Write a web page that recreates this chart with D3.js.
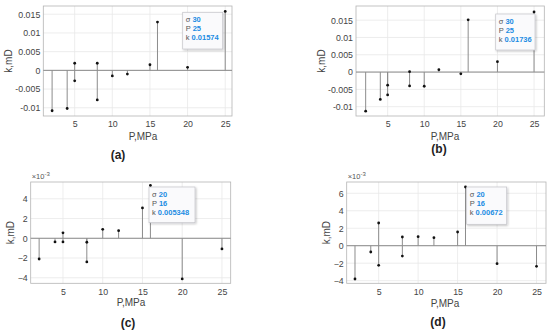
<!DOCTYPE html>
<html>
<head>
<meta charset="utf-8">
<script src="https://cdn.jsdelivr.net/npm/d3@7"></script>
<style>
  body { margin: 0; background: #fff; }
  text { font-family: "Liberation Sans", Arial, sans-serif; }
</style>
</head>
<body>
<div id="chart"></div>
<script>
// pressure points (same for all four panels)
var pressure = [2, 4, 5, 5, 8, 8, 10, 12, 15, 16, 20, 25];

// permeability change per panel, mD
var kA = [-0.0108, -0.0102, 0.0019, -0.0028, 0.0019, -0.0079, -0.0015, -0.0010, 0.0015, 0.0129, 0.0008, 0.01574];
var kB = [-0.0113, -0.0079, -0.0038, -0.0066, 0.0001, -0.0040, -0.0041, 0.0007, -0.0005, 0.0151, 0.0030, 0.01736];
var kC = [-0.00210, -0.00037, 0.00055, -0.00037, -0.00040, -0.00240, 0.00091, 0.00077, 0.00307, 0.005348, -0.00412, -0.00108];
var kD = [-0.00381, -0.00072, 0.00260, -0.00224, 0.00100, -0.00118, 0.00103, 0.00092, 0.00157, 0.00672, -0.00206, -0.00236];

var xTicks = [5, 10, 15, 20, 25];
var yTicksAB = [-0.01, -0.005, 0, 0.005, 0.01, 0.015];
var yTicksC = [-0.004, -0.002, 0, 0.002, 0.004];
var yTicksD = [-0.004, -0.002, 0, 0.002, 0.004, 0.006];

// data tips: sigma, P, k
var tipA = ["30", "25", "0.01574"];
var tipB = ["30", "25", "0.01736"];
var tipC = ["20", "16", "0.005348"];
var tipD = ["20", "16", "0.00672"];

var panelNames = ["(a)", "(b)", "(c)", "(d)"];

var svg = d3.select("#chart").append("svg")
  .attr("width", 550)
  .attr("height", 332);

var panels = [
  {k: kA, ticks: yTicksAB, tip: tipA, name: panelNames[0], exp: false,
   box: [43.3, 232, 6, 116], xd: [0.83, 25.9], yd: [-0.0122, 0.0172],
   tipBox: [182.7, 12.3, 40, 36.7], ylab: 8.5, xlabX: 143, xlabY: 140, nameX: 118, nameY: 159},
  {k: kB, ticks: yTicksAB, tip: tipB, name: panelNames[1], exp: false,
   box: [356, 544.3, 6, 116], xd: [0.68, 26.4], yd: [-0.0127, 0.0191],
   tipBox: [495.7, 14, 39.3, 36], ylab: 321.7, xlabX: 445, xlabY: 139.5, nameX: 439, nameY: 153},
  {k: kC, ticks: yTicksC, tip: tipC, name: panelNames[2], exp: true,
   box: [30.7, 230.7, 182, 283.3], xd: [0.94, 26.1], yd: [-0.00456, 0.0057],
   tipBox: [149, 187, 46, 35.7], ylab: 10, xlabX: 131, xlabY: 306, nameX: 128, nameY: 327},
  {k: kD, ticks: yTicksD, tip: tipD, name: panelNames[3], exp: true,
   box: [346.7, 546, 182, 283.3], xd: [0.95, 26.2], yd: [-0.0043, 0.00729],
   tipBox: [466.7, 187, 40, 37.3], ylab: 326.7, xlabX: 445, xlabY: 307, nameX: 438, nameY: 326}
];

var defs = svg.append("defs");
var f = defs.append("filter").attr("id", "shadow")
  .attr("x", "-20%").attr("y", "-20%").attr("width", "150%").attr("height", "150%");
f.append("feDropShadow").attr("dx", 1).attr("dy", 1).attr("stdDeviation", 0.8)
  .attr("flood-color", "#000").attr("flood-opacity", 0.25);

panels.forEach(function(p) {
  var x = d3.scaleLinear().domain(p.xd).range([p.box[0], p.box[1]]);
  var y = d3.scaleLinear().domain(p.yd).range([p.box[3], p.box[2]]);
  var g = svg.append("g");

  // grid
  g.selectAll(".gx").data(xTicks).enter().append("line")
    .attr("x1", d => x(d)).attr("x2", d => x(d))
    .attr("y1", p.box[2]).attr("y2", p.box[3])
    .attr("stroke", "#e8e8e8").attr("stroke-width", 0.8);
  g.selectAll(".gy").data(p.ticks).enter().append("line")
    .attr("x1", p.box[0]).attr("x2", p.box[1])
    .attr("y1", d => y(d)).attr("y2", d => y(d))
    .attr("stroke", "#e8e8e8").attr("stroke-width", 0.8);

  // axes box
  g.append("rect")
    .attr("x", p.box[0]).attr("y", p.box[2])
    .attr("width", p.box[1] - p.box[0]).attr("height", p.box[3] - p.box[2])
    .attr("fill", "none").attr("stroke", "#b4b4b4").attr("stroke-width", 0.8);

  // axes with ticks
  var fmt = p.exp ? (d => d3.format("")(Math.round(d * 1000))) : (d => d === 0 ? "0" : String(+d.toFixed(3)));
  var yAxis = d3.axisLeft(y).tickValues(p.ticks).tickSize(0).tickPadding(3).tickFormat(fmt);
  var xAxis = d3.axisBottom(x).tickValues(xTicks).tickSize(0).tickPadding(5);

  var ya = g.append("g").attr("transform", `translate(${p.box[0]},0)`).call(yAxis);
  var xa = g.append("g").attr("transform", `translate(0,${p.box[3]})`).call(xAxis);
  [ya, xa].forEach(function(a) {
    a.select(".domain").remove();
    a.selectAll("text").attr("font-size", "8.8px").attr("fill", "#444")
      .attr("font-family", "Liberation Sans, Arial, sans-serif");
  });

  if (p.exp) {
    var t = g.append("text").attr("x", p.box[0] + 1).attr("y", p.box[2] - 3)
      .attr("font-size", "7.5px").attr("fill", "#555");
    t.append("tspan").text("\u00d710");
    t.append("tspan").attr("dy", -3).attr("font-size", "6px").text("-3");
  }

  // baseline at zero
  g.append("line")
    .attr("x1", p.box[0]).attr("x2", p.box[1])
    .attr("y1", y(0)).attr("y2", y(0))
    .attr("stroke", "#8a8a8a").attr("stroke-width", 1);

  // stems
  g.selectAll(".stem").data(p.k).enter().append("line")
    .attr("x1", (d, i) => x(pressure[i])).attr("x2", (d, i) => x(pressure[i]))
    .attr("y1", y(0)).attr("y2", d => y(d))
    .attr("stroke", "#8c8c8c").attr("stroke-width", 1);

  g.selectAll(".dot").data(p.k).enter().append("circle")
    .attr("cx", (d, i) => x(pressure[i])).attr("cy", d => y(d))
    .attr("r", 1.4).attr("fill", "#111");

  // labels
  g.append("text").attr("x", p.xlabX).attr("y", p.xlabY)
    .attr("text-anchor", "middle").attr("font-size", "10px").attr("fill", "#444")
    .text("P,MPa");
  g.append("text")
    .attr("transform", `translate(${p.ylab + 3.5},${(p.box[2] + p.box[3]) / 2}) rotate(-90)`)
    .attr("text-anchor", "middle").attr("font-size", "10px").attr("fill", "#444")
    .text("k,mD");

  g.append("text").attr("x", p.nameX).attr("y", p.nameY)
    .attr("text-anchor", "middle").attr("font-size", "12px").attr("font-weight", "bold")
    .attr("font-family", "Liberation Serif, serif").attr("fill", "#222")
    .text(p.name);

  // data tip
  var tb = p.tipBox;
  var tg = g.append("g");
  tg.append("rect").attr("x", tb[0]).attr("y", tb[1]).attr("width", tb[2]).attr("height", tb[3])
    .attr("fill", "#fafafc").attr("stroke", "#c4c4c8").attr("stroke-width", 0.7)
    .attr("filter", "url(#shadow)");
  var tipLabels = ["\u03c3", "P", "k"];
  tipLabels.forEach(function(lab, i) {
    var tt = tg.append("text").attr("x", tb[0] + 3).attr("y", tb[1] + 10 + i * 9)
      .attr("font-size", "7.5px");
    tt.append("tspan").attr("fill", "#555").text(lab + " ");
    tt.append("tspan").attr("fill", "#1c8ce3").attr("font-weight", "bold").text(p.tip[i]);
  });
});
</script>
</body>
</html>
